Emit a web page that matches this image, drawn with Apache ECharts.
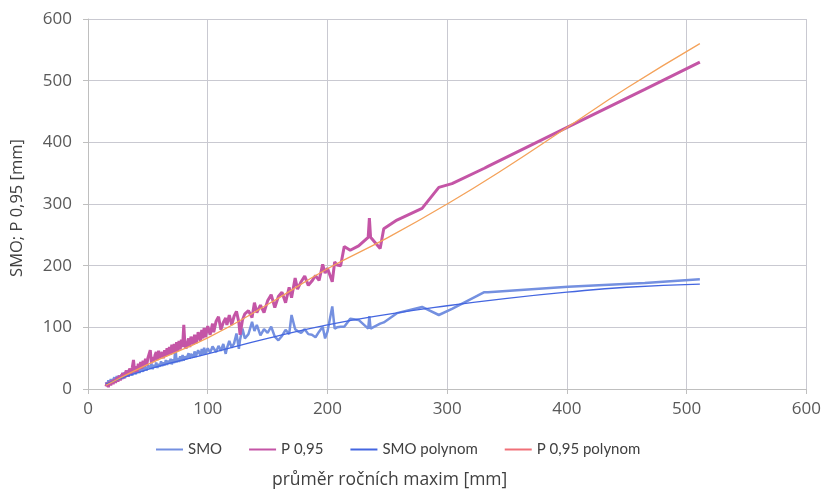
<!DOCTYPE html>
<html>
<head>
<meta charset="utf-8">
<script src="https://cdn.jsdelivr.net/npm/echarts@6/dist/echarts.min.js"></script>
<style>
html,body{margin:0;padding:0;background:#fff;}
#chart{width:824px;height:490px;}
</style>
</head>
<body>
<div id="chart"></div>
<script>
// průměr ročních maxim [mm]
var xValues = [15,16,17,18,19,20,21,22,23,24,25,26,27,28,29,30,31,32,33,34,35,36,37,38,39,40,41,42,43,44,45,46,47,48,49,50,
  52,53,54,55,56,57,58,59,60,61,62,63,64,65,66,67,68,69,70,71,72,73,74,75,76,77,78,79,80,81,82,84,85,86,88,89,90,91,92,94,95,96,97,98,
  100,102,104,105,107,109,111,113,115,116,118,120,122,124,126,127,129,131,134,137,139,141,144,147,150,153,156,159,162,165,168,170,173,175,178,
  181,184,187,190,193,196,198,200,204,206,208,211,214,219,226,234,235,236,244,247,258,279,293,304,331,334,401,465,511];
var smoValues = [11,5,14,7,16,9,15,19,10,21,13,22,15,24,16,27,18,26,30,20,29,32,22,31,34,24,33,36,26,35,38,28,37,40,30,39,
  33,41,32,39,35,43,34,41,36,45,37,43,38,47,39,46,41,49,40,48,42,69,43,50,44,53,45,55,46,53,48,58,49,57,51,61,52,58,63,54,65,56,67,57,
  66,59,69,72,60,70,62,73,57,66,78,67,74,90,65,80,98,82,89,109,94,104,87,97,91,101,85,79,86,96,89,120,97,94,91,
  97,89,88,84,93,101,82,93,134,98,100,101,101,114,112,98,118,98,106,108,123,133,120,130,157,157,166,172,178];
var p95Values = [4,10,3,12,6,14,8,16,10,19,12,22,14,20,26,17,25,30,20,29,33,24,35,47,27,37,28,41,32,44,33,46,36,49,38,50,
  63,42,52,44,55,60,47,62,50,48,60,50,63,53,66,55,68,56,72,58,73,60,76,62,78,64,80,68,104,70,66,82,68,85,72,88,74,79,92,78,96,82,99,84,
  102,88,106,92,110,117,96,108,115,104,120,104,118,126,108,88,112,122,127,116,140,124,136,124,143,153,132,150,157,140,165,148,180,162,174,
  183,168,175,184,176,202,188,196,174,206,201,200,231,225,232,246,277,246,228,260,274,293,327,333,358,361,425,486,530];
// polynomial trend lines
var trendX = [15,50,100,150,200,250,300,350,400,450,511];
var smoTrend = [8,32,57,82,104,121,135,147,157,165,170];
var p95Trend = [6,40,83,137,195,245,300,360,424,488,560];
var xTicks = [0,100,200,300,400,500,600];
var yTicks = [0,100,200,300,400,500,600];

function pairs(xs, ys){ return xs.map(function(x,i){ return [x, ys[i]]; }); }

var chart = echarts.init(document.getElementById('chart'), null, {renderer:'canvas'});
var font = 'Open Sans';
chart.setOption({
  animation:false,
  backgroundColor:'#ffffff',
  grid:{left:88,right:15,top:19,bottom:101,containLabel:false},
  xAxis:{type:'value',min:xTicks[0],max:xTicks[xTicks.length-1],interval:100,
    axisLine:{show:true,lineStyle:{color:'#bfbfbf'}},
    axisTick:{show:true,length:5,lineStyle:{color:'#bfbfbf'}},
    axisLabel:{color:'#595959',fontFamily:font,fontSize:17,margin:12},
    splitLine:{show:true,lineStyle:{color:'#c9c9d1',width:1}}},
  yAxis:{type:'value',min:yTicks[0],max:yTicks[yTicks.length-1],interval:100,
    axisLine:{show:true,lineStyle:{color:'#bfbfbf'}},
    axisTick:{show:true,length:5,lineStyle:{color:'#bfbfbf'}},
    axisLabel:{color:'#595959',fontFamily:font,fontSize:17,margin:16},
    splitLine:{show:true,lineStyle:{color:'#c9c9d1',width:1}}},
  legend:{left:150,top:437,itemWidth:27,itemHeight:10,itemGap:26,
    itemStyle:{opacity:0},
    textStyle:{color:'#404040',fontFamily:'Lato',fontSize:15},
    data:[
      {name:'SMO'},
      {name:'P 0,95'},
      {name:'SMO polynom'},
      {name:'P 0,95 polynom',lineStyle:{color:'#f07078'}}
    ]},
  graphic:[
    {type:'text',left:272,top:471,style:{text:'průměr ročních maxim [mm]',fill:'#404040',font:'17.5px "Open Sans"'}},
    {type:'text',x:17,y:208,rotation:Math.PI/2,style:{text:'SMO; P 0,95 [mm]',fill:'#404040',font:'16.5px "Open Sans"',textAlign:'center',textVerticalAlign:'middle'}}
  ],
  series:[
    {name:'SMO',type:'line',symbol:'none',data:pairs(xValues,smoValues),
      lineStyle:{color:'#7490e0',width:2.5},itemStyle:{color:'#7490e0'},z:2},
    {name:'P 0,95',type:'line',symbol:'none',data:pairs(xValues,p95Values),
      lineStyle:{color:'#c455a6',width:3},itemStyle:{color:'#c455a6'},z:3},
    {name:'SMO polynom',type:'line',symbol:'none',smooth:true,data:pairs(trendX,smoTrend),
      lineStyle:{color:'#4466e0',width:1.3},itemStyle:{color:'#4466e0'},z:4},
    {name:'P 0,95 polynom',type:'line',symbol:'none',smooth:true,data:pairs(trendX,p95Trend),
      lineStyle:{color:'#f4a25a',width:1.3},itemStyle:{color:'#f4a25a'},z:5}
  ]
});
</script>
</body>
</html>
